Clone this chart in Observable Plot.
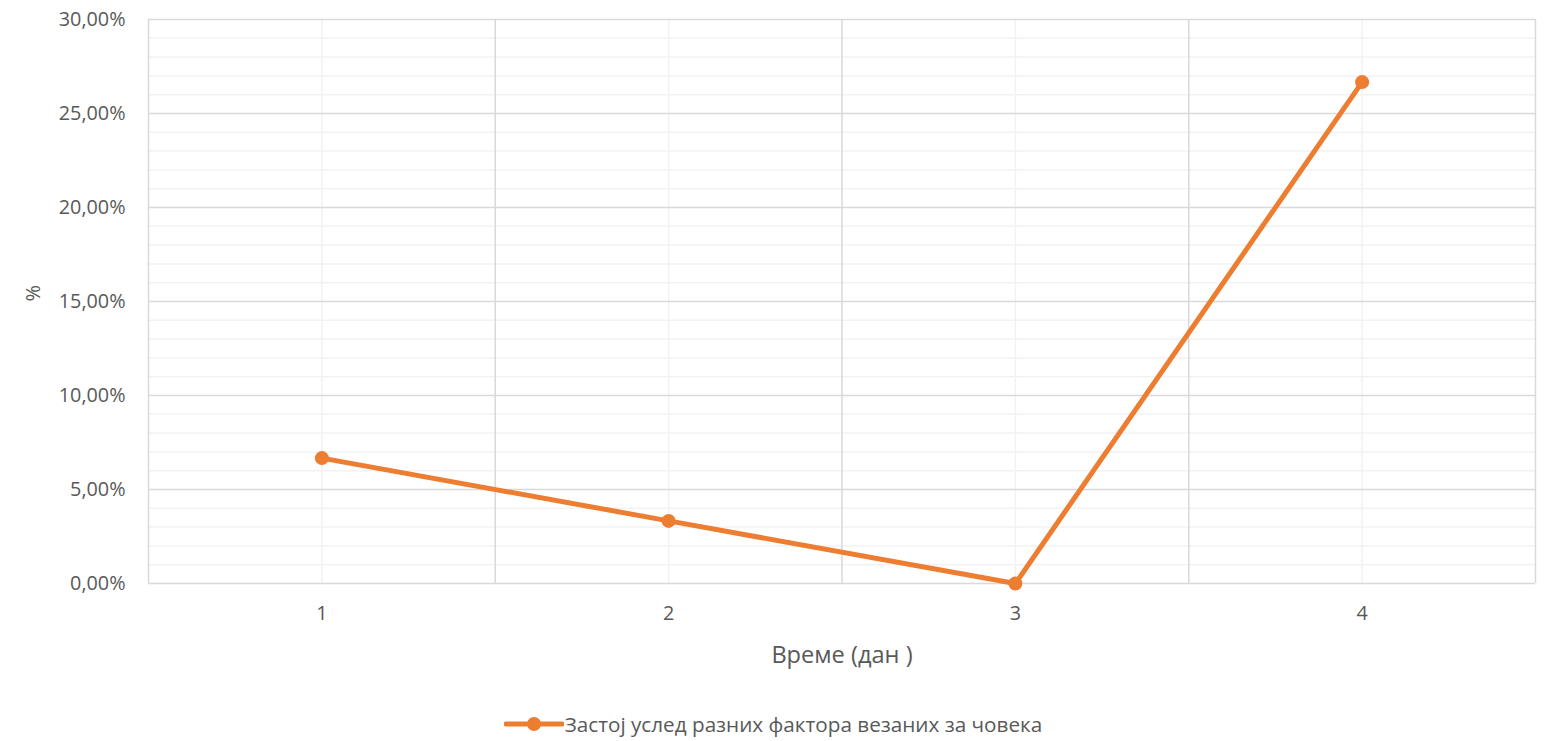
<!DOCTYPE html>
<html>
<head>
<meta charset="utf-8">
<script src="https://cdn.jsdelivr.net/npm/d3@7"></script>
<script src="https://cdn.jsdelivr.net/npm/@observablehq/plot@0.6"></script>
<style>
  body { margin: 0; background: #fff; font-family: "Open Sans", "Noto Sans", sans-serif; }
  #chart { position: relative; width: 1546px; height: 741px; }
  #chart svg g[aria-label="x-axis tick label"],
  #chart svg g[aria-label="y-axis tick label"] { font-size: 19.8px; }
  #chart svg g.x-title { font-size: 23.6px; }
  #chart svg g.y-title { font-size: 20px; }
  .legend { position: absolute; left: 0; width: 1546px; top: 708px; text-align: center; font-size: 20.7px; line-height: 28px; color: #595959; white-space: nowrap; }
  .legend span { display: inline-block; vertical-align: middle; }
  .legend span.sw { height: 16px; line-height: 0; margin-right: 1px; }
</style>
</head>
<body>
<div id="chart"></div>
<script>
// Series: downtime share (%) per day
const days = [1, 2, 3, 4];
const shares = [6.67, 3.33, 0, 26.67];
const seriesName = "Застој услед разних фактора везаних за човека";
const yMajorTicks = [0, 5, 10, 15, 20, 25, 30];
const yMinorTicks = d3.range(0, 31, 1).filter(v => v % 5 !== 0);
const xCategoryTicks = [1, 2, 3, 4];
const xBoundaries = [0.5, 1.5, 2.5, 3.5, 4.5];
const xTitle = "Време (дан )";
const yTitle = "%";

const points = days.map((d, i) => ({day: d, value: shares[i]}));
const orange = "#ED7D31";
const fmt = v => v.toFixed(2).replace(".", ",") + "%";

const chart = Plot.plot({
  width: 1546,
  height: 680,
  marginLeft: 148,
  marginRight: 11,
  marginTop: 19,
  marginBottom: 97,
  style: {fontFamily: "'Open Sans', 'Noto Sans', sans-serif", color: "#595959", background: "#fff"},
  x: {type: "linear", domain: [0.5, 4.5], label: null},
  y: {domain: [0, 30], label: null},
  marks: [
    Plot.ruleY(yMinorTicks, {stroke: "#f2f2f2", strokeWidth: 1.5}),
    Plot.ruleX(xCategoryTicks, {stroke: "#f2f2f2", strokeWidth: 1.5}),
    Plot.ruleY(yMajorTicks, {stroke: "#d9d9d9", strokeWidth: 1.5}),
    Plot.ruleX(xBoundaries, {stroke: "#d9d9d9", strokeWidth: 1.5}),
    Plot.axisX({ticks: xCategoryTicks, tickSize: 0, tickPadding: 22, tickFormat: d => String(d), fill: "#595959", label: null}),
    Plot.axisY({ticks: yMajorTicks, tickSize: 0, tickPadding: 23, tickFormat: fmt, fill: "#595959", label: null}),
    Plot.text([xTitle], {frameAnchor: "bottom", dy: 79, fill: "#595959", className: "x-title"}),
    Plot.text([yTitle], {frameAnchor: "left", dx: -115, rotate: -90, fill: "#595959", className: "y-title"}),
    Plot.line(points, {x: "day", y: "value", stroke: orange, strokeWidth: 5, strokeLinejoin: "round"}),
    Plot.dot(points, {x: "day", y: "value", r: 7, fill: orange, stroke: null})
  ]
});
const host = document.getElementById("chart");
host.appendChild(chart);

const legend = document.createElement("div");
legend.className = "legend";
legend.innerHTML = `<span class="sw"><svg width="60" height="16"><line x1="2" x2="58" y1="8" y2="8" stroke="${orange}" stroke-width="5" stroke-linecap="round"/><circle cx="30" cy="8" r="7" fill="${orange}"/></svg></span><span class="lbl"></span>`;
legend.querySelector(".lbl").textContent = seriesName;
host.appendChild(legend);
</script>
</body>
</html>
